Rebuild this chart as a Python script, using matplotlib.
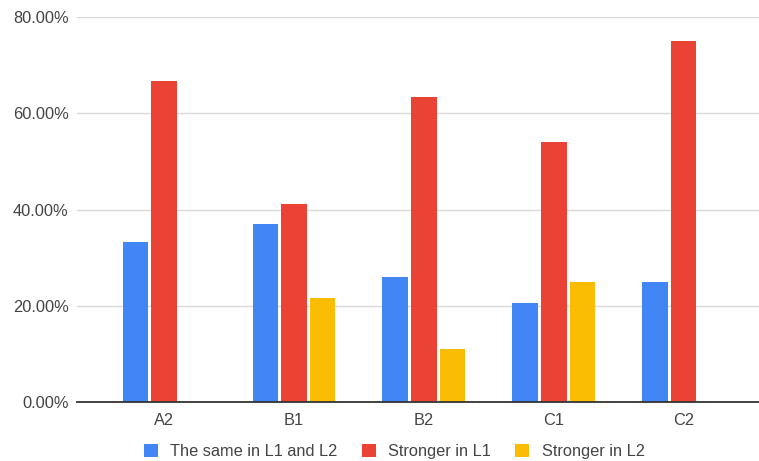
import numpy as np
import matplotlib.pyplot as plt
from matplotlib.ticker import FuncFormatter

# 数据
levels = ['A2', 'B1', 'B2', 'C1', 'C2']
same_l1_l2 = [0.3333, 0.370, 0.259, 0.207, 0.25]
stronger_l1 = [0.6667, 0.412, 0.633, 0.541, 0.75]
stronger_l2 = [0.0, 0.216, 0.110, 0.25, 0.0]

series_names = ['The same in L1 and L2', 'Stronger in L1', 'Stronger in L2']
colors = ['#4285F4', '#EA4335', '#FBBC04']

plt.rcParams['font.family'] = ['Liberation Sans', 'DejaVu Sans']

fig = plt.figure(figsize=(7.59, 4.61), dpi=100)
ax = fig.add_axes([0.1014, 0.1273, 0.8986, 0.8365])

x = np.arange(len(levels))
width = 0.197
offsets = [-0.22, 0.0, 0.22]
for vals, name, col, off in zip([same_l1_l2, stronger_l1, stronger_l2], series_names, colors, offsets):
    ax.bar(x + off, vals, width, color=col, label=name, zorder=3)

ax.set_xlim(-0.67, 4.58)
ax.set_ylim(0, 0.8)
ax.set_yticks([0, 0.2, 0.4, 0.6, 0.8])
ax.yaxis.set_major_formatter(FuncFormatter(lambda v, p: f'{v * 100:.2f}%'))
ax.set_xticks(x)
ax.set_xticklabels(levels)

ax.grid(axis='y', color='#d9d9d9', linewidth=1, zorder=0)
for s in ['top', 'right', 'left']:
    ax.spines[s].set_visible(False)
ax.spines['bottom'].set_color('#333333')
ax.spines['bottom'].set_linewidth(1.3)
ax.spines['bottom'].set_zorder(4)
ax.tick_params(axis='both', length=0, labelsize=11.8, labelcolor='#444444')
ax.tick_params(axis='y', pad=6)
ax.tick_params(axis='x', pad=8)

ax.legend(loc='center', bbox_to_anchor=(0.465, -0.128), ncol=3, frameon=False,
          fontsize=11.8, labelcolor='#444444', handlelength=0.85, handleheight=0.85,
          handletextpad=0.75, columnspacing=1.5)

fig.savefig('out.png', dpi=100)
